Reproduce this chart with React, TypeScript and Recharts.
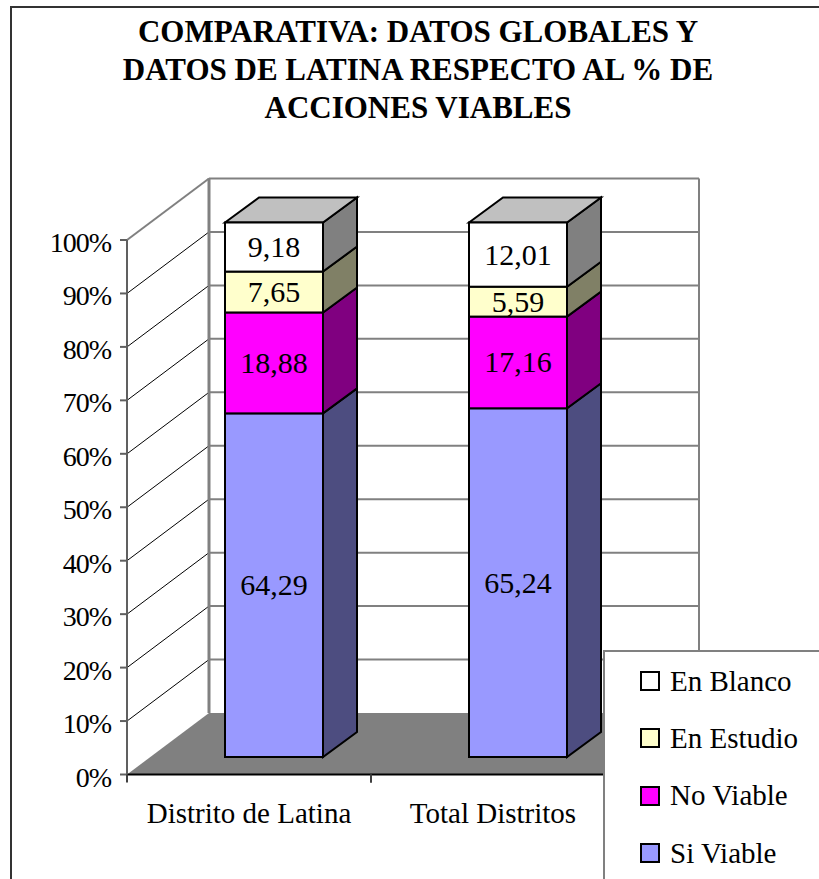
import { BarChart, Bar, XAxis, YAxis, CartesianGrid, Legend, LabelList } from 'recharts';

const categories = ['Distrito de Latina', 'Total Distritos'];
const siViable = [64.29, 65.24];
const noViable = [18.88, 17.16];
const enEstudio = [7.65, 5.59];
const enBlanco = [9.18, 12.01];
const yTicks = [0, 10, 20, 30, 40, 50, 60, 70, 80, 90, 100];
const titleLines = [
  'COMPARATIVA: DATOS GLOBALES Y',
  'DATOS DE LATINA RESPECTO AL % DE',
  'ACCIONES VIABLES',
];

const data = categories.map((name, i) => ({
  name,
  'Si Viable': siViable[i],
  'No Viable': noViable[i],
  'En Estudio': enEstudio[i],
  'En Blanco': enBlanco[i],
}));

const series = [
  { key: 'Si Viable', front: '#9999ff', side: '#4d4d80' },
  { key: 'No Viable', front: '#ff00ff', side: '#800080' },
  { key: 'En Estudio', front: '#ffffcc', side: '#808066' },
  { key: 'En Blanco', front: '#ffffff', side: '#808080' },
];

const FONT = '"Liberation Serif", serif';
const WIDTH = 819;
const HEIGHT = 879;
const PLOT_LEFT = 127;
const PLOT_RIGHT = 615;
const PLOT_TOP = 240;
const PLOT_BOTTOM = 774.5;
// fake 3D offsets: wall depth and bar depth
const WALL_DX = 82;
const WALL_DY = -61.5;
const BAR_SHIFT_X = 25;
const BAR_SHIFT_Y = -17.5;
const BAR_DX = 34;
const BAR_DY = -25;
const BAND = (PLOT_RIGHT - PLOT_LEFT) / categories.length;

const Bar3D = (props: any) => {
  const { x, y, width, height, front, side, isTop } = props;
  const l = x + BAR_SHIFT_X;
  const t = y + BAR_SHIFT_Y;
  const r = l + width;
  const b = t + height;
  return (
    <g stroke="#000" strokeWidth={2} strokeLinejoin="miter">
      <polygon
        points={`${r},${t} ${r + BAR_DX},${t + BAR_DY} ${r + BAR_DX},${b + BAR_DY} ${r},${b}`}
        fill={side}
      />
      {isTop && (
        <polygon
          points={`${l},${t} ${l + BAR_DX},${t + BAR_DY} ${r + BAR_DX},${t + BAR_DY} ${r},${t}`}
          fill="#c0c0c0"
        />
      )}
      <rect x={l} y={t} width={width} height={height} fill={front} />
    </g>
  );
};

const BarValue = (props: any) => {
  const { x, y, width, height, value } = props;
  return (
    <text
      x={x + BAR_SHIFT_X + width / 2}
      y={y + BAR_SHIFT_Y + height / 2 + 10}
      textAnchor="middle"
      fontFamily={FONT}
      fontSize={30}
      fill="#000"
    >
      {String(value).replace('.', ',')}
    </text>
  );
};

const GridLine = (props: any) => {
  const { x1, y1 } = props;
  const isFloor = Math.abs(y1 - PLOT_BOTTOM) < 1;
  const isTop = Math.abs(y1 - PLOT_TOP) < 1;
  const bx = x1 + WALL_DX;
  const by = y1 + WALL_DY;
  return (
    <g key={`grid-${y1}`}>
      {isFloor ? (
        <polygon
          points={`${x1},${y1} ${bx},${by} ${bx + PLOT_RIGHT - PLOT_LEFT + 2},${by} ${PLOT_RIGHT + 2},${y1}`}
          fill="#808080"
        />
      ) : (
        <>
          <line x1={x1} y1={y1} x2={bx} y2={by} stroke={isTop ? '#808080' : '#000'} strokeWidth={isTop ? 2 : 1} />
          <line x1={bx} y1={by} x2={bx + PLOT_RIGHT - PLOT_LEFT + 2} y2={by} stroke="#808080" strokeWidth={2} />
        </>
      )}
      {isTop && (
        <>
          <line x1={bx} y1={by} x2={bx} y2={PLOT_BOTTOM + WALL_DY} stroke="#808080" strokeWidth={3} />
          <line
            x1={bx + PLOT_RIGHT - PLOT_LEFT + 2}
            y1={by}
            x2={bx + PLOT_RIGHT - PLOT_LEFT + 2}
            y2={PLOT_BOTTOM + WALL_DY}
            stroke="#808080"
            strokeWidth={2}
          />
        </>
      )}
    </g>
  );
};

const CategoryTick = (props: any) => {
  const { x, y, payload } = props;
  return (
    <g>
      <line x1={x - BAND / 2} y1={PLOT_BOTTOM} x2={x - BAND / 2} y2={PLOT_BOTTOM + 8} stroke="#404040" strokeWidth={2} />
      <line x1={x + BAND / 2} y1={PLOT_BOTTOM} x2={x + BAND / 2} y2={PLOT_BOTTOM + 8} stroke="#404040" strokeWidth={2} />
      <text x={x} y={PLOT_BOTTOM + 48} textAnchor="middle" fontFamily={FONT} fontSize={29} fill="#000">
        {payload.value}
      </text>
    </g>
  );
};

const ValueTick = (props: any) => {
  const { x, y, payload } = props;
  return (
    <text x={x} y={y + 12} textAnchor="end" fontFamily={FONT} fontSize={28} letterSpacing={-1} fill="#000">
      {`${payload.value}%`}
    </text>
  );
};

const LegendBox = () => (
  <div
    style={{
      width: 230,
      height: 240,
      background: '#fff',
      borderLeft: '2px solid #808080',
      borderTop: '2px solid #808080',
      position: 'relative',
      fontFamily: FONT,
      fontSize: 29,
      color: '#000',
    }}
  >
    {[...series].reverse().map((s, i) => (
      <div
        key={s.key}
        style={{
          position: 'absolute',
          left: 35,
          top: 14 + i * 57.4,
          height: 30,
          display: 'flex',
          alignItems: 'center',
          whiteSpace: 'nowrap',
        }}
      >
        <span
          style={{
            display: 'inline-block',
            boxSizing: 'border-box',
            width: 20,
            height: 20,
            background: s.front,
            border: '2px solid #000',
            marginRight: 10,
          }}
        />
        {s.key}
      </div>
    ))}
  </div>
);

export default function App() {
  return (
    <div style={{ position: 'absolute', left: 0, top: 0, width: WIDTH, height: HEIGHT, overflow: 'hidden', background: '#fff' }}>
      <div
        style={{
          position: 'absolute',
          left: 10,
          top: 6,
          width: WIDTH,
          height: HEIGHT,
          borderLeft: '2px solid #333',
          borderTop: '2px solid #333',
        }}
      />
      <BarChart
        width={WIDTH}
        height={HEIGHT}
        data={data}
        barSize={98}
        margin={{ top: PLOT_TOP, left: PLOT_LEFT - 70, right: WIDTH - PLOT_RIGHT, bottom: HEIGHT - PLOT_BOTTOM - 60 }}
        style={{ position: 'absolute', left: 0, top: 0 }}
      >
        <CartesianGrid vertical={false} horizontal={GridLine} syncWithTicks />
        <XAxis
          dataKey="name"
          height={60}
          interval={0}
          tick={CategoryTick}
          tickLine={false}
          axisLine={{ stroke: '#000', strokeWidth: 2 }}
        />
        <YAxis
          width={70}
          domain={[0, 100]}
          ticks={yTicks}
          interval={0}
          tickSize={7}
          tickMargin={9}
          tick={ValueTick}
          tickLine={{ stroke: '#606060', strokeWidth: 2 }}
          axisLine={{ stroke: '#606060', strokeWidth: 2 }}
        />
        <Legend
          layout="vertical"
          align="center"
          verticalAlign="middle"
          content={LegendBox}
          wrapperStyle={{ left: 603, top: 650, width: 230, height: 240 }}
        />
        {series.map((s, i) => (
          <Bar
            key={s.key}
            dataKey={s.key}
            stackId="a"
            isAnimationActive={false}
            shape={(p: any) => <Bar3D {...p} front={s.front} side={s.side} isTop={i === series.length - 1} />}
          >
            <LabelList dataKey={s.key} content={BarValue} />
          </Bar>
        ))}
        {titleLines.map((line, i) => (
          <text
            key={line}
            x={418}
            y={42 + i * 38}
            textAnchor="middle"
            fontFamily={FONT}
            fontSize={31}
            fontWeight="bold"
            fill="#000"
          >
            {line}
          </text>
        ))}
      </BarChart>
    </div>
  );
}
